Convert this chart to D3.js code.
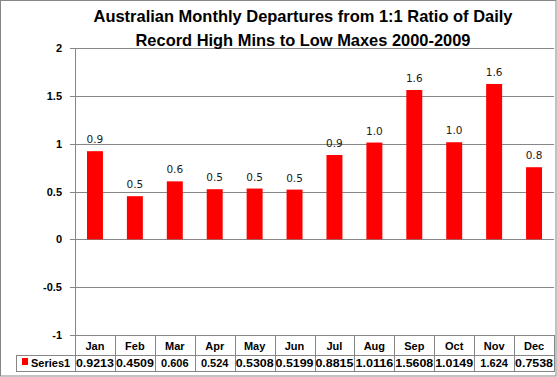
<!DOCTYPE html>
<html><head><meta charset="utf-8">
<script src="https://cdn.jsdelivr.net/npm/d3@7"></script>
<style>body{margin:0;background:#fff}svg{display:block}</style>
</head><body>
<script>
const months = ["Jan","Feb","Mar","Apr","May","Jun","Jul","Aug","Sep","Oct","Nov","Dec"];
const values = [0.9213,0.4509,0.606,0.524,0.5308,0.5199,0.8815,1.0116,1.5608,1.0149,1.624,0.7538];
const tableLabels = ["0.9213","0.4509","0.606","0.524","0.5308","0.5199","0.8815","1.0116","1.5608","1.0149","1.624","0.7538"];
const yTicks = [-1,-0.5,0,0.5,1,1.5,2];
const seriesName = "Series1";
const titleLines = ["Australian Monthly Departures from 1:1 Ratio of Daily","Record High Mins to Low Maxes 2000-2009"];

const W=557,H=377;
const svg=d3.select("body").append("svg").attr("width",W).attr("height",H);
const font="'Liberation Sans', Arial, sans-serif";
svg.append("rect").attr("x",0.5).attr("y",0.5).attr("width",W-1.5).attr("height",H-1.5).attr("fill","#fff").attr("stroke","#868686");

const L=75,R=554,T=48,B=335;
const x=d3.scaleBand().domain(months).range([L,R]).paddingInner(0.6).paddingOuter(0.3);
const xc=d3.scaleBand().domain(months).range([L,R]);
const y=d3.scaleLinear().domain([-1,2]).range([B,T]);
const grey="#868686";

// gridlines
svg.append("g").selectAll("line").data(yTicks).join("line")
 .attr("x1",L-5).attr("x2",R).attr("y1",d=>Math.round(y(d))+0.5).attr("y2",d=>Math.round(y(d))+0.5)
 .attr("stroke",grey).attr("stroke-width",1);
// y axis line
svg.append("line").attr("x1",L+0.5).attr("x2",L+0.5).attr("y1",T).attr("y2",371).attr("stroke",grey);
// y labels
svg.append("g").selectAll("text").data(yTicks).join("text")
 .attr("x",62).attr("y",d=>y(d)+4).attr("text-anchor","end")
 .attr("font-family",font).attr("font-weight","bold").attr("font-size",11).text(d=>String(d));

// bars
svg.append("g").selectAll("rect").data(values).join("rect")
 .attr("x",(d,i)=>x(months[i])).attr("width",x.bandwidth())
 .attr("y",d=>y(Math.max(0,d))).attr("height",d=>Math.abs(y(d)-y(0))).attr("fill","#ff0000");
// data labels
svg.append("g").selectAll("text").data(values).join("text")
 .attr("x",(d,i)=>xc(months[i])+xc.bandwidth()/2).attr("y",d=>y(d)-8)
 .attr("text-anchor","middle").attr("font-family","'DejaVu Sans', Verdana, sans-serif").attr("font-size",10.5).attr("fill","#1a1a1a")
 .text(d=>d3.format(".1f")(d));

// table
const r1=355,r2=371;
const tg=svg.append("g");
[r1,r2].forEach(yy=>tg.append("line").attr("x1",16).attr("x2",R).attr("y1",yy+0.5).attr("y2",yy+0.5).attr("stroke",grey));
tg.append("line").attr("x1",16.5).attr("x2",16.5).attr("y1",r1).attr("y2",r2+1).attr("stroke",grey);
months.forEach((m,i)=>{
  const xx=Math.round(xc(m)+xc.bandwidth())+0.5;
  tg.append("line").attr("x1",xx).attr("x2",xx).attr("y1",B).attr("y2",r2+1).attr("stroke",grey);
});
tg.selectAll("text.m").data(months).join("text").attr("class","m")
 .attr("x",d=>xc(d)+xc.bandwidth()/2).attr("y",r1-5).attr("text-anchor","middle")
 .attr("font-family",font).attr("font-weight","bold").attr("font-size",11).text(d=>d);
tg.selectAll("text.v").data(tableLabels).join("text").attr("class","v")
 .attr("x",(d,i)=>xc(months[i])+xc.bandwidth()/2).attr("y",r2-4).attr("text-anchor","middle")
 .attr("font-family",font).attr("font-weight","bold").attr("font-size",11).attr("textLength",d=>d.length>5?38:null).attr("lengthAdjust","spacingAndGlyphs").text(d=>d);
tg.append("rect").attr("x",22).attr("y",358).attr("width",6).attr("height",7).attr("fill","#ff0000");
tg.append("text").attr("x",31).attr("y",r2-4).attr("font-family",font).attr("font-weight","bold").attr("font-size",11).text(seriesName);

// title
svg.append("g").selectAll("text").data(titleLines).join("text")
 .attr("x",303).attr("y",(d,i)=>21.5+i*24.5).attr("text-anchor","middle")
 .attr("font-family",font).attr("font-weight","bold").attr("font-size",16.5)
 .attr("textLength",(d,i)=>i===0?419:335).attr("lengthAdjust","spacingAndGlyphs").text(d=>d);
</script>
</body></html>
